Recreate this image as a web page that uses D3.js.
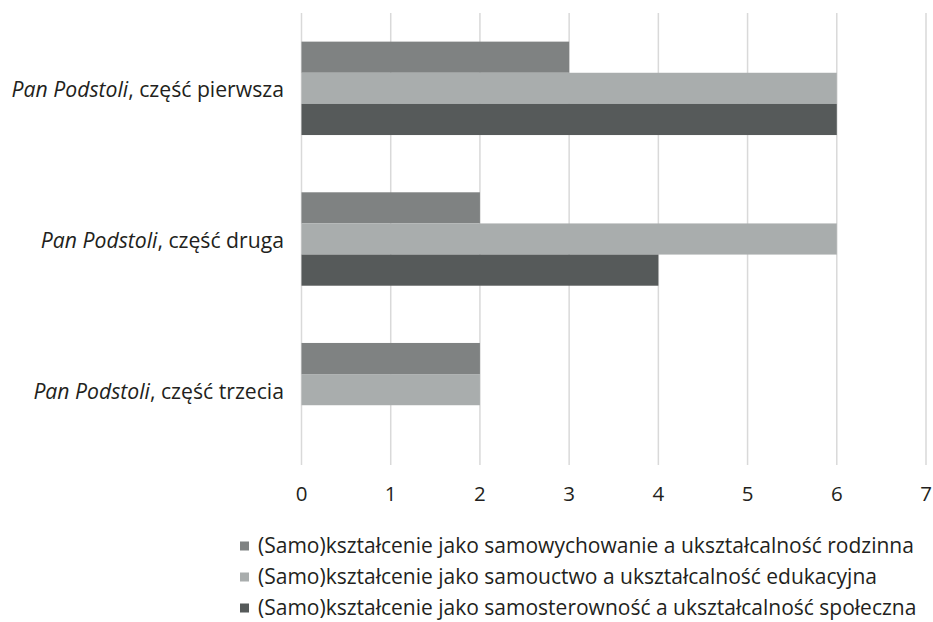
<!DOCTYPE html>
<html>
<head>
<meta charset="utf-8">
<script src="https://cdn.jsdelivr.net/npm/d3@7"></script>
<style>
  html, body { margin: 0; padding: 0; background: #fff; }
  svg { display: block; }
  text { font-family: "Open Sans", "Noto Sans", sans-serif; fill: #231f20; }
</style>
</head>
<body>
<svg id="chart" width="933" height="622"></svg>
<script>
// Categories (top to bottom)
const categories = [
  "część pierwsza",
  "część druga",
  "część trzecia"
];
const titlePart = "Pan Podstoli";

// Series
const seriesNames = [
  "(Samo)kształcenie jako samowychowanie a ukształcalność rodzinna",
  "(Samo)kształcenie jako samouctwo a ukształcalność edukacyjna",
  "(Samo)kształcenie jako samosterowność a ukształcalność społeczna"
];
const rodzinna   = [3, 2, 2];
const edukacyjna = [6, 6, 2];
const spoleczna  = [6, 4, 0];
const seriesValues = [rodzinna, edukacyjna, spoleczna];
const seriesColors = ["#7f8282", "#a9adad", "#565a5a"];

const xTicks = [0, 1, 2, 3, 4, 5, 6, 7];

const svg = d3.select("#chart");

const x = d3.scaleLinear().domain([0, 7]).range([301.5, 926]);
const y = d3.scaleBand().domain(categories).range([13, 465])
  .paddingInner(0.38).paddingOuter(0.19);
const ySub = d3.scaleBand().domain(d3.range(seriesNames.length))
  .range([0, y.bandwidth()]);

// Vertical gridlines
svg.append("g").selectAll("line").data(xTicks).join("line")
  .attr("x1", d => x(d)).attr("x2", d => x(d))
  .attr("y1", 13).attr("y2", 465)
  .attr("stroke", "#d9d9d9").attr("stroke-width", 1.5);

// Bars
const rows = [];
categories.forEach((c, ci) => {
  seriesValues.forEach((vals, si) => {
    rows.push({ cat: c, s: si, v: vals[ci] });
  });
});
svg.append("g").selectAll("rect").data(rows.filter(r => r.v > 0)).join("rect")
  .attr("x", x(0))
  .attr("y", d => y(d.cat) + ySub(d.s))
  .attr("width", d => x(d.v) - x(0))
  .attr("height", ySub.bandwidth())
  .attr("fill", d => seriesColors[d.s]);

// X axis tick labels
svg.append("g").selectAll("text").data(xTicks).join("text")
  .attr("x", d => x(d)).attr("y", 493)
  .attr("text-anchor", "middle").attr("dominant-baseline", "central")
  .style("font-size", "20.5px")
  .text(d => d);

// Category labels
const catLabels = svg.append("g").selectAll("text").data(categories).join("text")
  .attr("x", 284)
  .attr("y", d => y(d) + y.bandwidth() / 2)
  .attr("text-anchor", "end").attr("dominant-baseline", "central")
  .style("font-size", "21.2px");
catLabels.append("tspan").style("font-style", "italic").text(titlePart);
catLabels.append("tspan").text(d => ", " + d);

// Legend
const legend = svg.append("g").selectAll("g").data(seriesNames).join("g")
  .attr("transform", (d, i) => `translate(240, ${545 + i * 31})`);
legend.append("rect")
  .attr("x", 0).attr("y", -3.5).attr("width", 9).attr("height", 9)
  .attr("fill", (d, i) => seriesColors[i]);
legend.append("text")
  .attr("x", 18).attr("y", 0)
  .attr("dominant-baseline", "central")
  .style("font-size", "21px")
  .text(d => d);
</script>
</body>
</html>
